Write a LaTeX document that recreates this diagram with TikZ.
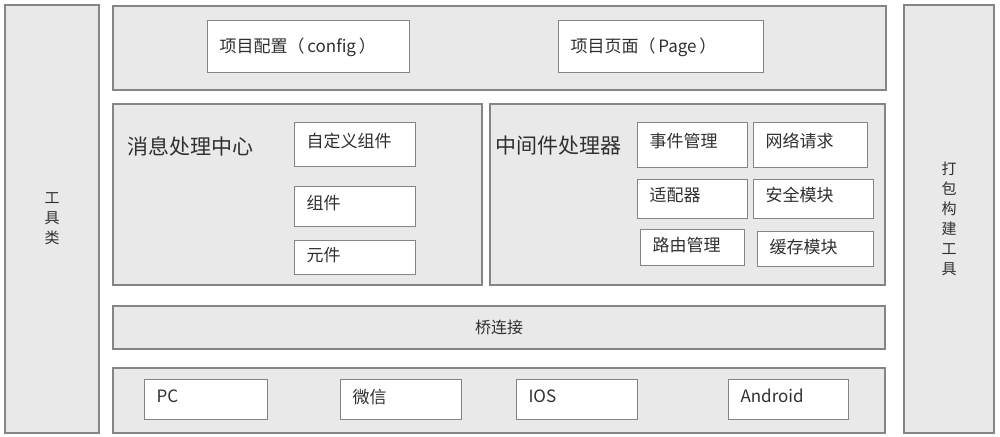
\documentclass[tikz,border=0pt]{standalone}
\usepackage{fontspec}
\setmainfont{Noto Sans CJK SC}
\definecolor{frame}{HTML}{858585}
\definecolor{stip}{HTML}{E9E9E9}
\definecolor{ink}{HTML}{303030}
\tikzset{
    panel/.style={draw=frame, line width=2.2pt, fill=stip, anchor=north west, inner sep=0pt, text=ink},
    cell/.style={draw=frame, line width=1pt, fill=white, anchor=north west, align=left, inner xsep=12pt, inner ysep=0pt, text depth=9pt, text=ink, font=\fontsize{17}{20}\selectfont},
    title/.style={anchor=west, inner sep=0pt, text=ink, font=\fontsize{21}{24}\selectfont},
}

\begin{document}
\begin{tikzpicture}[x=1pt, y=-1pt]
    \useasboundingbox[fill=white] (0,0) rectangle (1000,436);
    % side columns
    \node[panel, minimum width=94, minimum height=428, align=center, font=\fontsize{15}{20}\selectfont] (tool) at (4,4) {工\\具\\类};
    \node[panel, minimum width=90, minimum height=428, align=center, font=\fontsize{15}{20}\selectfont] (pack) at (903,4) {打\\包\\构\\建\\工\\具};
    % project layer
    \node[panel, minimum width=773, minimum height=84] (proj) at (112,5) {};
    \node[cell, minimum width=202, minimum height=52, text width=178, text depth=3pt] (cfg) at (207,20) {项目配置（\,config\,）};
    \node[cell, minimum width=205, minimum height=52, text width=181, text depth=3pt] (page) at (558,20) {项目页面（\,Page\,）};
    % message center
    \node[panel, minimum width=369, minimum height=181] (msg) at (112,103) {};
    \node[title] (msgt) at (127,146) {消息处理中心};
    \node[cell, minimum width=121, minimum height=44, text width=97] (zdy) at (294,122) {自定义组件};
    \node[cell, minimum width=121, minimum height=40, text width=97] (zj) at (294,186) {组件};
    \node[cell, minimum width=121, minimum height=34, text width=97, text depth=6pt] (yj) at (294,240) {元件};
    % middleware
    \node[panel, minimum width=395, minimum height=181] (mid) at (489,103) {};
    \node[title] (midt) at (495,146) {中间件处理器};
    \node[cell, minimum width=110, minimum height=45, text width=86] (sj) at (637,122) {事件管理};
    \node[cell, minimum width=114, minimum height=45, text width=90] (wl) at (753,122) {网络请求};
    \node[cell, minimum width=110, minimum height=39, text width=86] (sp) at (637,179) {适配器};
    \node[cell, minimum width=120, minimum height=39, text width=96] (aq) at (753,179) {安全模块};
    \node[cell, minimum width=104, minimum height=36, text width=80, text depth=6pt] (ly) at (640,229) {路由管理};
    \node[cell, minimum width=116, minimum height=35, text width=92, text depth=6pt] (hc) at (757,231) {缓存模块};
    % bridge
    \node[panel, minimum width=772, minimum height=43, font=\fontsize{16}{20}\selectfont] (bridge) at (112,305) {桥连接};
    % platforms
    \node[panel, minimum width=772, minimum height=65] (base) at (112,367) {};
    \node[cell, minimum width=123, minimum height=40, text width=99, text depth=7pt] (pc) at (144,379) {PC};
    \node[cell, minimum width=121, minimum height=40, text width=97, text depth=7pt] (wx) at (340,379) {微信};
    \node[cell, minimum width=121, minimum height=40, text width=97, text depth=7pt] (ios) at (516,379) {IOS};
    \node[cell, minimum width=120, minimum height=40, text width=96, text depth=7pt] (andr) at (728,379) {Android};
\end{tikzpicture}
\end{document}
